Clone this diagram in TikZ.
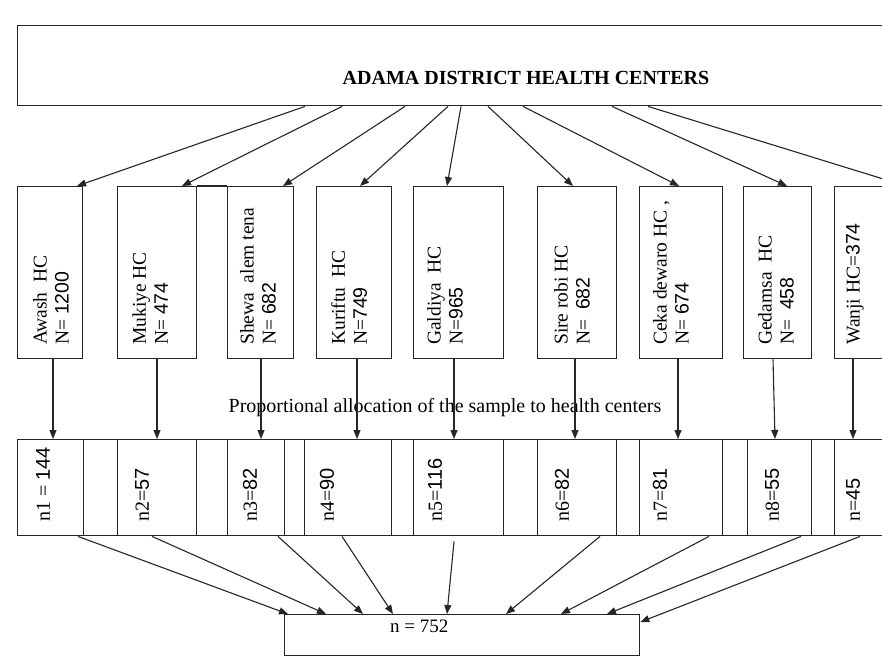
\documentclass[tikz,border=0pt]{standalone}
\usepackage{fontspec}
\setmainfont{Liberation Serif}
\newfontfamily\numfont{Liberation Sans}
\usetikzlibrary{arrows.meta}
\begin{document}
\begin{tikzpicture}[x=1pt,y=-1pt,
  box/.style={draw=black!85, line width=1.4pt, inner sep=0, anchor=north west},
  arr/.style={draw=black!85, line width=1.1pt, -{Triangle[length=9pt,width=7pt]}},
  vtext/.style={rotate=90, anchor=west, align=left, inner sep=0, font=\fontsize{19.5}{22}\selectfont},
  btext/.style={rotate=90, anchor=west, inner sep=0, font=\fontsize{20}{22}\selectfont}]
\useasboundingbox (0,0) rectangle (882,659);
\clip (0,0) rectangle (882,659);
% top box
\node[box, minimum width=900, minimum height=80] (top) at (17,25) {};
\node[font=\bfseries\fontsize{20}{24}\selectfont, inner sep=0] (title) at (526,78) {ADAMA DISTRICT HEALTH CENTERS};
% middle boxes
\node[box, minimum width=65, minimum height=172] (awash) at (17,186) {};
\node[box, minimum width=79, minimum height=172] (mukiye) at (117,186) {};
\node[box, minimum width=66, minimum height=172] (shewa) at (227,186) {};
\node[box, minimum width=75, minimum height=172] (kuriftu) at (316,186) {};
\node[box, minimum width=90, minimum height=172] (galdiya) at (413,186) {};
\node[box, minimum width=79, minimum height=172] (sire) at (537,186) {};
\node[box, minimum width=83, minimum height=172] (ceka) at (639,186) {};
\node[box, minimum width=68, minimum height=172] (gedamsa) at (743,186) {};
\node[box, minimum width=80, minimum height=172] (wanji) at (834,186) {};
\draw[draw=black!85, line width=1.4pt] (mukiye.north east) -- (shewa.north west);
% middle texts
\node[vtext] (tawash) at (51,345) {Awash\ \ HC\\N= {\numfont 1200}};
\node[vtext] (tmukiye) at (150,345) {Mukiye HC\\N= {\numfont 474}};
\node[vtext] (tshewa) at (258,345) {Shewa\ \ alem tena\\N= {\numfont 682}};
\node[vtext] (tkuriftu) at (349,345) {Kuriftu\ \ HC\\N={\numfont 749}};
\node[vtext] (tgaldiya) at (445,345) {Galdiya\ \ HC\\N={\numfont 965}};
\node[vtext] (tsire) at (572,345) {Sire robi HC\\N=\ \ {\numfont 682}};
\node[vtext] (tceka) at (671,345) {Ceka dewaro HC ,\\N= {\numfont 674}};
\node[vtext] (tgedamsa) at (776,345) {Gedamsa\ \ HC\\N=\ \ {\numfont 458}};
\node[vtext] (twanji) at (855,345) {Wanji HC={\numfont 374}};
% caption
\node[font=\fontsize{20}{24}\selectfont, inner sep=0] (cap) at (445,408) {Proportional allocation of the sample to health centers};
% bottom row
\node[box, minimum width=893, minimum height=96] (row) at (17,439) {};
\node[box, minimum width=66, minimum height=96] (c1) at (17,439) {};
\node[box, minimum width=79, minimum height=96] (c2) at (117,439) {};
\node[box, minimum width=57, minimum height=96] (c3) at (227,439) {};
\node[box, minimum width=87, minimum height=96] (c4) at (304,439) {};
\node[box, minimum width=90, minimum height=96] (c5) at (413,439) {};
\node[box, minimum width=79, minimum height=96] (c6) at (537,439) {};
\node[box, minimum width=83, minimum height=96] (c7) at (639,439) {};
\node[box, minimum width=64, minimum height=96] (c8) at (747,439) {};
\node[box, minimum width=76, minimum height=96] (c9) at (834,439) {};
\node[btext] (t1) at (43,522) {n1 = {\numfont 144}};
\node[btext] (t2) at (142,522) {n2={\numfont 57}};
\node[btext] (t3) at (250,522) {n3={\numfont 82}};
\node[btext] (t4) at (327,522) {n4={\numfont 90}};
\node[btext] (t5) at (435,522) {n5={\numfont 116}};
\node[btext] (t6) at (562,522) {n6={\numfont 82}};
\node[btext] (t7) at (660,522) {n7={\numfont 81}};
\node[btext] (t8) at (772,522) {n8={\numfont 55}};
\node[btext] (t9) at (853,522) {n={\numfont 45}};
% result
\node[box, minimum width=355, minimum height=41] (res) at (284,614) {};
\node[font=\fontsize{19}{22}\selectfont, inner sep=0, anchor=west] (rest) at (390,626) {n = 752};
% arrows top -> middle
\draw[arr] ([xshift=288]top.south west) -- ([xshift=60]awash.north west);
\draw[arr] ([xshift=325]top.south west) -- ([xshift=65]mukiye.north west);
\draw[arr] ([xshift=388]top.south west) -- ([xshift=56]shewa.north west);
\draw[arr] ([xshift=431]top.south west) -- ([xshift=44]kuriftu.north west);
\draw[arr] ([xshift=444]top.south west) -- ([xshift=34]galdiya.north west);
\draw[arr] ([xshift=471]top.south west) -- ([xshift=36]sire.north west);
\draw[arr] ([xshift=506]top.south west) -- ([xshift=40]ceka.north west);
\draw[arr] ([xshift=595]top.south west) -- ([xshift=44]gedamsa.north west);
\draw[arr] ([xshift=631]top.south west) -- ([xshift=72]wanji.north west);
% arrows middle -> bottom
\draw[arr] ([xshift=36]awash.south west) -- ([xshift=36]c1.north west);
\draw[arr] ([xshift=40]mukiye.south west) -- ([xshift=40]c2.north west);
\draw[arr] ([xshift=34]shewa.south west) -- ([xshift=34]c3.north west);
\draw[arr] ([xshift=41]kuriftu.south west) -- ([xshift=53]c4.north west);
\draw[arr] ([xshift=41]galdiya.south west) -- ([xshift=41]c5.north west);
\draw[arr] ([xshift=38]sire.south west) -- ([xshift=38]c6.north west);
\draw[arr] ([xshift=39]ceka.south west) -- ([xshift=39]c7.north west);
\draw[arr] ([xshift=30]gedamsa.south west) -- ([xshift=28]c8.north west);
\draw[arr] ([xshift=19]wanji.south west) -- ([xshift=19]c9.north west);
% arrows bottom -> result
\draw[arr] ([xshift=61]row.south west) -- ([xshift=4]res.north west);
\draw[arr] ([xshift=135]row.south west) -- ([xshift=42]res.north west);
\draw[arr] ([xshift=261]row.south west) -- ([xshift=79]res.north west);
\draw[arr] ([xshift=325]row.south west) -- ([xshift=109]res.north west);
\draw[arr] ([xshift=437,yshift=-5]row.south west) -- ([xshift=163]res.north west);
\draw[arr] ([xshift=583]row.south west) -- ([xshift=222]res.north west);
\draw[arr] ([xshift=692]row.south west) -- ([xshift=277]res.north west);
\draw[arr] ([xshift=784]row.south west) -- ([xshift=323]res.north west);
\draw[arr] ([xshift=843]row.south west) -- ([yshift=-8]res.north east);
\end{tikzpicture}
\end{document}
